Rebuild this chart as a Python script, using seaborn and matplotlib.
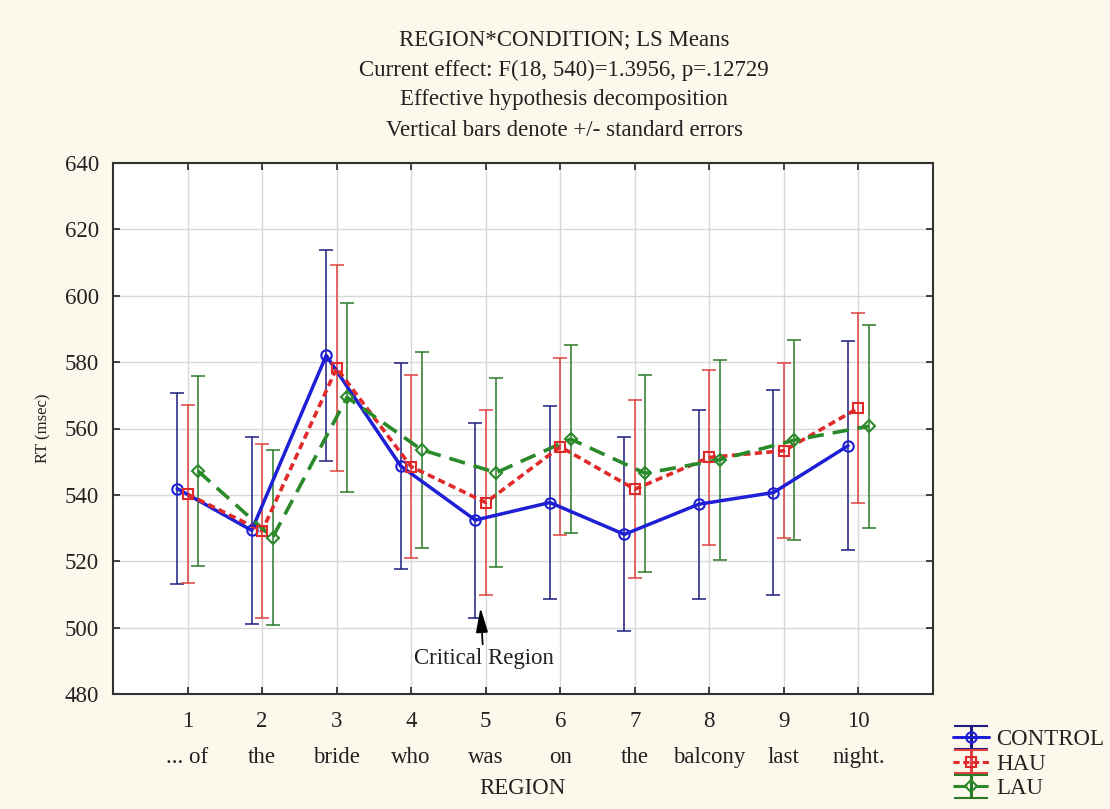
import numpy as np
import pandas as pd
import matplotlib
matplotlib.use("Agg")
import matplotlib.pyplot as plt
import seaborn as sns

regions = [1, 2, 3, 4, 5, 6, 7, 8, 9, 10]
words = ["... of", "the", "bride", "who", "was", "on", "the", "balcony", "last", "night."]

control_mean = [541.9, 529.3, 582.0, 548.7, 532.4, 537.7, 528.1, 537.2, 540.7, 554.8]
control_se = [28.9, 28.2, 31.8, 31.1, 29.4, 29.2, 29.2, 28.5, 31.0, 31.5]
hau_mean = [540.2, 529.1, 578.2, 548.5, 537.7, 554.5, 541.7, 551.3, 553.3, 566.2]
hau_se = [26.8, 26.1, 31.0, 27.5, 27.8, 26.6, 26.8, 26.3, 26.4, 28.7]
lau_mean = [547.2, 527.1, 569.4, 553.6, 546.7, 556.8, 546.5, 550.6, 556.5, 560.7]
lau_se = [28.5, 26.3, 28.4, 29.5, 28.5, 28.3, 29.7, 30.1, 30.2, 30.6]

conditions = ["CONTROL", "HAU", "LAU"]
means = [control_mean, hau_mean, lau_mean]
ses = [control_se, hau_se, lau_se]
offsets = [-0.14, 0.0, 0.14]
line_colors = ["#1f1fd6", "#e02a2a", "#2a8a2a"]
bar_colors = ["#1c1c80", "#e04040", "#2a7a2a"]
markers = ["o", "s", "D"]
dashes = [(None, None), (2.0, 1.2), (4.5, 2.5)]
msizes = [7.5, 7, 6]

rows = []
for c, m, s, off in zip(conditions, means, ses, offsets):
    for r, mv, sv in zip(regions, m, s):
        rows.append({"cond": c, "x": r + off, "mean": mv, "se": sv})
df = pd.DataFrame(rows)

sns.set_theme(style="white")
plt.rcParams["font.family"] = ["Liberation Serif", "DejaVu Serif"]

FS = 16.5
TXT = "#222222"

fig = plt.figure(figsize=(11.10, 8.09), dpi=100, facecolor="#fdf8ec")
ax = fig.add_axes([113 / 1110, 1 - 694 / 809, (933 - 113) / 1110, (694 - 163) / 809])
ax.set_facecolor("white")

handles = []
for i, c in enumerate(conditions):
    sub = df[df["cond"] == c]
    ax.errorbar(sub["x"], sub["mean"], yerr=sub["se"], fmt="none",
                ecolor=bar_colors[i], elinewidth=1.1, capsize=5, capthick=1.1, zorder=2)
    sns.lineplot(data=sub, x="x", y="mean", ax=ax, color=line_colors[i],
                 linewidth=2.5 if i == 0 else 2.6, zorder=3 + i, legend=False,
                 estimator=None, sort=False)
    ln = ax.lines[-1]
    if dashes[i][0] is not None:
        ln.set_dashes(dashes[i])
    ax.plot(sub["x"], sub["mean"], linestyle="none", marker=markers[i],
            markersize=msizes[i], markerfacecolor="none", markeredgecolor=line_colors[i],
            markeredgewidth=1.5, zorder=6)
    eb = ax.errorbar([np.nan], [np.nan], yerr=[1], color=line_colors[i],
                     ecolor=bar_colors[i], marker=markers[i], markersize=msizes[i],
                     markerfacecolor="none", markeredgewidth=1.5,
                     linestyle="-" if i == 0 else "--", linewidth=2.2, capsize=12)
    if dashes[i][0] is not None:
        eb.lines[0].set_dashes(dashes[i])
    handles.append(eb)

ax.set_xlim(0, 11)
ax.set_ylim(480, 640)
ax.set_xticks(regions)
ax.set_xticklabels([str(r) for r in regions])
ax.set_yticks(np.arange(480, 641, 20))
ax.grid(True, color="#d8d8d8", linewidth=1.0)
ax.set_axisbelow(True)
for sp in ax.spines.values():
    sp.set_visible(True)
    sp.set_color("#333333")
    sp.set_linewidth(1.5)
ax.tick_params(axis="both", direction="in", length=5, width=1.3, colors="#333333",
               labelsize=FS, labelcolor=TXT, top=True, right=True,
               left=True, bottom=True)
ax.tick_params(axis="x", pad=12)
ax.tick_params(axis="y", pad=10)
ax.set_xlabel("")
ax.set_ylabel("RT (msec)", fontsize=12, color=TXT)
ax.yaxis.set_label_coords((51 - 113) / 820, 0.5)

for r, w in zip(regions, words):
    ax.annotate(w, xy=(r, 0), xycoords=("data", "axes fraction"),
                xytext=(0, -45.5), textcoords="offset points", ha="center", va="center",
                fontsize=FS, color=TXT)
fig.text(522 / 1110, 1 - 788 / 809, "REGION", ha="center", va="center",
         fontsize=FS, color=TXT)

ax.annotate("Critical Region", xy=(4.93, 506.0), xytext=(4.97, 490.8),
            ha="center", va="center", fontsize=FS, color=TXT,
            arrowprops=dict(arrowstyle="-|>,head_length=0.9,head_width=0.22",
                            color="black", lw=1.3, shrinkA=0, shrinkB=0))

title_lines = ["REGION*CONDITION; LS Means",
               "Current effect: F(18, 540)=1.3956, p=.12729",
               "Effective hypothesis decomposition",
               "Vertical bars denote +/- standard errors"]
for k, t in enumerate(title_lines):
    fig.text(564 / 1110, 1 - (40 + k * 30) / 809, t, ha="center", va="center",
             fontsize=FS, color=TXT)

leg = fig.legend(handles, conditions, loc="lower right",
                 bbox_to_anchor=(1118 / 1110, -4 / 809), frameon=False,
                 fontsize=FS, handlelength=1.6, handletextpad=0.3,
                 labelspacing=0.15, borderaxespad=0.2)
for t in leg.get_texts():
    t.set_color(TXT)

fig.savefig("out.png", dpi=100, facecolor=fig.get_facecolor())
